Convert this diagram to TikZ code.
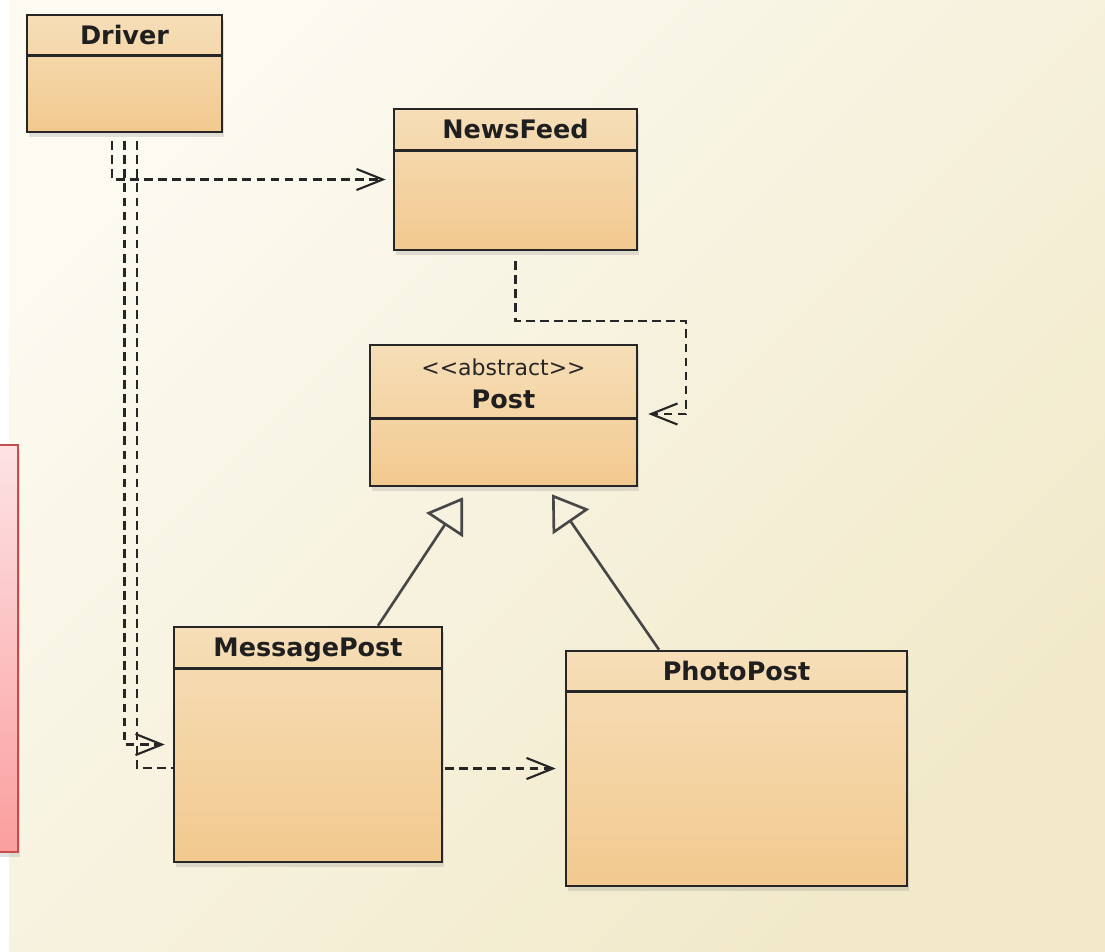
\documentclass[tikz,border=0pt]{standalone}
\usepackage{fontspec}
\setmainfont{DejaVu Sans}
\usetikzlibrary{arrows.meta,positioning,calc,shadows}
\definecolor{classtop}{HTML}{F6DEB8}
\definecolor{classbot}{HTML}{F2C98F}
\definecolor{canvastop}{HTML}{FCFAF1}
\definecolor{canvasbot}{HTML}{F1E9C9}
\definecolor{notetop}{HTML}{FDE3E5}
\definecolor{notebot}{HTML}{FB9E9E}
\definecolor{noteline}{HTML}{C44E4E}

\begin{document}
\begin{tikzpicture}[x=0.02cm,y=-0.02cm,
  classbox/.style={draw=black!85,line width=1.5pt,top color=classtop,bottom color=classbot,inner sep=0pt,
    drop shadow={opacity=0.22,shadow xshift=1pt,shadow yshift=-3pt}},
  classline/.style={draw=black!85,line width=1.4pt},
  classname/.style={font=\bfseries\fontsize{14.5}{17}\selectfont,text=black!88,minimum height=0.84cm,inner sep=0pt,
    text height=10.6pt,text depth=0pt},
  depend/.style={line width=1.2pt,black!85,dash pattern=on 5pt off 3pt,-{Straight Barb[length=15pt,width=12pt]}},
  extends/.style={line width=1.5pt,black!72,-{Triangle[open,length=19pt,width=25pt]}}]
\fill[white] (0,0) rectangle (1105,951);
\shade[top color=canvastop,bottom color=canvasbot,shading angle=45] (9,0) rectangle (1105,951);
\useasboundingbox (0,0) rectangle (1105,951);

\node[draw=noteline,line width=1.5pt,top color=notetop,bottom color=notebot,minimum width=0.6cm,minimum height=8.14cm,
  drop shadow={opacity=0.22,shadow xshift=1pt,shadow yshift=-3pt}] (note) at (3,648.5) {};

\node[classbox,minimum width=3.9cm,minimum height=2.34cm] (driver) at (124.5,73.5) {};
\draw[classline] (driver.north west) ++(0,42) -- ++(195,0);
\node[classname,below=0pt of driver.north] (driver-name) {Driver};

\node[classbox,minimum width=4.86cm,minimum height=2.82cm] (newsfeed) at (515.5,179.5) {};
\draw[classline] (newsfeed.north west) ++(0,43) -- ++(243,0);
\node[classname,below=0pt of newsfeed.north] (newsfeed-name) {NewsFeed};

\node[classbox,minimum width=5.34cm,minimum height=2.82cm] (post) at (503.5,415.5) {};
\draw[classline] (post.north west) ++(0,75) -- ++(267,0);
\node[font=\fontsize{12.5}{15}\selectfont,text=black!85,inner sep=0pt] (post-stereo) at (503.5,367) {<\kern0pt<abstract>\kern0pt>};
\node[classname,minimum height=0pt] (post-name) at (503.5,399) {Post};

\node[classbox,minimum width=5.36cm,minimum height=4.7cm] (messagepost) at (308,744.5) {};
\draw[classline] (messagepost.north west) ++(0,43) -- ++(268,0);
\node[classname,below=0pt of messagepost.north] (messagepost-name) {MessagePost};

\node[classbox,minimum width=6.82cm,minimum height=4.7cm] (photopost) at (736.5,768.5) {};
\draw[classline] (photopost.north west) ++(0,42) -- ++(341,0);
\node[classname,below=0pt of photopost.north] (photopost-name) {PhotoPost};

\draw[depend,shorten >=0.14cm] ($(driver.south)+(-12.5,8)$) |- (newsfeed.west);
\draw[depend,shorten >=0.16cm] ($(driver.south)+(0,8)$) |- (messagepost.west);
\draw[depend,-] ($(driver.south)+(12.5,8)$) |- ($(messagepost.west)+(0,23.5)$);
\draw[depend,shorten >=0.2cm] ($(newsfeed.south)+(0,10)$) -- ++(0,60) -| ($(post.east)+(48,-1.5)$) -- ($(post.east)+(0,-1.5)$);
\draw[depend,shorten >=0.18cm] ($(messagepost.east |- photopost.west)+(2,0)$) -- (photopost.west);

\draw[extends] ($(messagepost.north)+(70,0)$) -- ($(post.south)+(-40.5,10)$);
\draw[extends] ($(photopost.north)+(-77.5,0)$) -- ($(post.south)+(48.5,7)$);
\end{tikzpicture}
\end{document}
